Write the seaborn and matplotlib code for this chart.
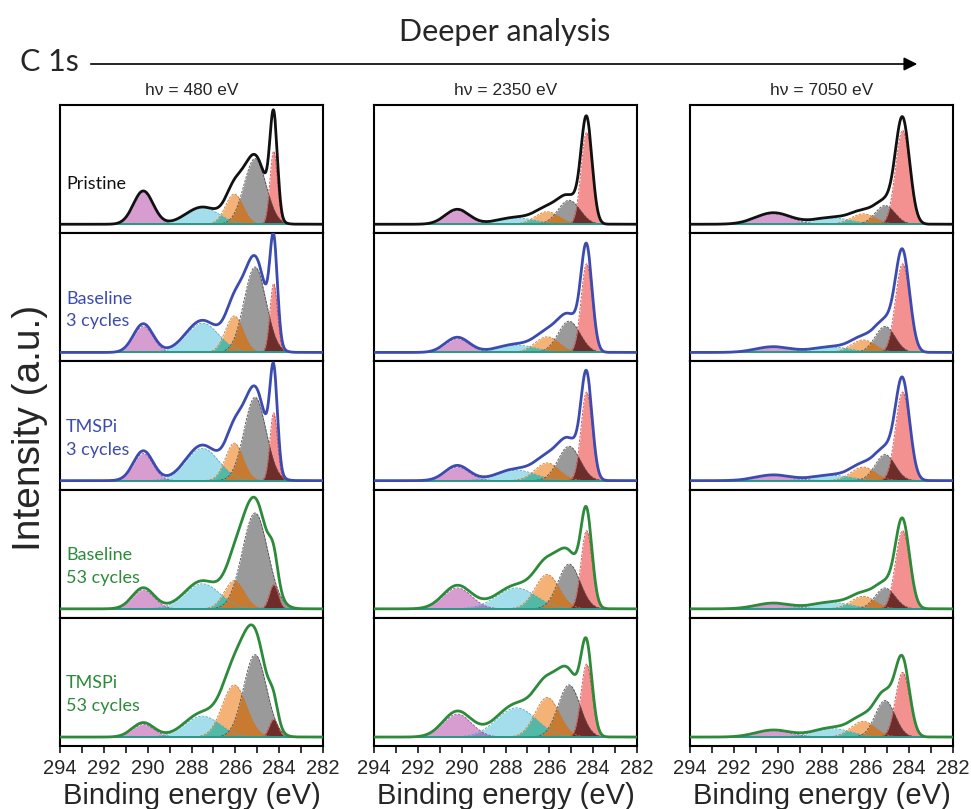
import numpy as np
import pandas as pd
import matplotlib
matplotlib.use("Agg")
import matplotlib.pyplot as plt
from matplotlib.patches import FancyArrowPatch
import seaborn as sns

# ---------------- data ----------------
PHOTON_LABELS = ["h\u03bd = 480 eV", "h\u03bd = 2350 eV", "h\u03bd = 7050 eV"]
SAMPLES = ["Pristine", "Baseline\n3 cycles", "TMSPi\n3 cycles", "Baseline\n53 cycles", "TMSPi\n53 cycles"]
COMPONENTS = ["pink", "cyan", "orange", "gray", "red"]
X_TICKS = [294, 292, 290, 288, 286, 284, 282]

# peak centres (eV) per photon energy: pink, cyan, orange, gray, red
CENTERS_480 = [290.2, 287.5, 286.05, 285.1, 284.25]
CENTERS_2350 = [290.2, 287.5, 286.1, 285.1, 284.3]
CENTERS_7050 = [290.2, 287.5, 286.1, 285.1, 284.3]

# peak widths (sigma, eV) per sample row: pink, cyan, orange, gray, red
SIGMAS_480 = [
    [0.45, 0.75, 0.40, 0.50, 0.17],
    [0.45, 0.75, 0.40, 0.50, 0.17],
    [0.45, 0.75, 0.40, 0.50, 0.17],
    [0.50, 0.80, 0.45, 0.58, 0.20],
    [0.50, 0.80, 0.55, 0.52, 0.20],
]
SIGMAS_2350 = [
    [0.55, 0.85, 0.55, 0.50, 0.25],
    [0.55, 0.85, 0.55, 0.50, 0.25],
    [0.55, 0.85, 0.55, 0.50, 0.25],
    [0.65, 0.90, 0.55, 0.50, 0.25],
    [0.65, 0.90, 0.55, 0.50, 0.25],
]
SIGMAS_7050 = [
    [0.80, 0.85, 0.55, 0.45, 0.32],
    [0.80, 0.85, 0.55, 0.45, 0.32],
    [0.80, 0.85, 0.55, 0.45, 0.32],
    [0.80, 0.85, 0.55, 0.45, 0.32],
    [0.80, 0.85, 0.55, 0.45, 0.32],
]

# peak heights (normalised) per sample row: pink, cyan, orange, gray, red
HEIGHTS_480 = [
    [0.31, 0.16, 0.29, 0.63, 0.70],
    [0.25, 0.28, 0.35, 0.82, 0.66],
    [0.26, 0.31, 0.36, 0.80, 0.65],
    [0.18, 0.24, 0.27, 0.92, 0.23],
    [0.12, 0.20, 0.50, 0.79, 0.17],
]
HEIGHTS_2350 = [
    [0.13, 0.06, 0.12, 0.23, 0.88],
    [0.13, 0.07, 0.15, 0.30, 0.85],
    [0.13, 0.10, 0.17, 0.33, 0.85],
    [0.20, 0.20, 0.33, 0.43, 0.75],
    [0.22, 0.28, 0.38, 0.50, 0.70],
]
HEIGHTS_7050 = [
    [0.10, 0.06, 0.10, 0.18, 0.90],
    [0.05, 0.05, 0.12, 0.25, 0.85],
    [0.05, 0.05, 0.13, 0.25, 0.85],
    [0.05, 0.06, 0.12, 0.20, 0.75],
    [0.06, 0.08, 0.15, 0.35, 0.62],
]

# envelope = scale * sum(components) + narrow residual at the red peak
ENV_SCALE_480 = [1.03, 1.10, 1.10, 1.12, 1.15]
ENV_SCALE_2350 = [1.10, 1.12, 1.12, 1.12, 1.12]
ENV_SCALE_7050 = [1.10, 1.10, 1.10, 1.10, 1.12]
SPIKE_480 = [0.22, 0.20, 0.20, 0.00, 0.00]
SPIKE_2350 = [0.0, 0.0, 0.0, 0.0, 0.0]
SPIKE_7050 = [0.0, 0.0, 0.0, 0.0, 0.0]

CENTERS = [CENTERS_480, CENTERS_2350, CENTERS_7050]
SIGMAS = [SIGMAS_480, SIGMAS_2350, SIGMAS_7050]
HEIGHTS = [HEIGHTS_480, HEIGHTS_2350, HEIGHTS_7050]
ENV_SCALE = [ENV_SCALE_480, ENV_SCALE_2350, ENV_SCALE_7050]
SPIKE = [SPIKE_480, SPIKE_2350, SPIKE_7050]

# ---------------- style ----------------
sns.set_theme(style="white")
plt.rcParams["font.family"] = ["Liberation Sans", "DejaVu Sans"]

FILL = {"pink": "#d393cc", "cyan": "#9adbeb", "orange": "#f3aa68",
        "gray": "#8f8f8f", "red": "#f28585"}
EDGE = {"pink": "#9a4f92", "cyan": "#4fa9c0", "orange": "#c9782f",
        "gray": "#505050", "red": "#d04848"}
OVERLAP_GR = "#6e2d2b"
OVERLAP_OG = "#c97a31"
OVERLAP_CO = "#52b9a6"
OVERLAP_PC = "#9b86c4"
LINE_COLORS = ["#111111", "#3c4bb0", "#3c4bb0", "#2c8a3a", "#2c8a3a"]
CALIBRI = ["Lato", "DejaVu Sans"]

W, H = 971, 809
fig = plt.figure(figsize=(W / 100, H / 100), dpi=100)
col_left = [60, 374, 690]
col_w = 263
top = 105
row_h = (746 - 105) / 5

E = np.linspace(282.0, 294.0, 1500)


def gauss(x, h, c, s):
    return h * np.exp(-0.5 * ((x - c) / s) ** 2)


for c in range(3):
    for r in range(5):
        ax = fig.add_axes([col_left[c] / W, 1 - (top + (r + 1) * row_h) / H,
                           col_w / W, row_h / H])
        sig = SIGMAS[c][r]
        comps = {}
        for k, name in enumerate(COMPONENTS):
            comps[name] = gauss(E, HEIGHTS[c][r][k], CENTERS[c][k], sig[k])
        for name in COMPONENTS:
            ax.fill_between(E, 0, comps[name], color=FILL[name], alpha=0.9,
                            lw=0, zorder=2)
        ax.fill_between(E, 0, np.minimum(comps["pink"], comps["cyan"]),
                        color=OVERLAP_PC, lw=0, zorder=3)
        ax.fill_between(E, 0, np.minimum(comps["cyan"], comps["orange"]),
                        color=OVERLAP_CO, lw=0, zorder=3)
        ax.fill_between(E, 0, np.minimum(comps["orange"], comps["gray"]),
                        color=OVERLAP_OG, lw=0, zorder=3)
        ax.fill_between(E, 0, np.minimum(comps["gray"], comps["red"]),
                        color=OVERLAP_GR, lw=0, zorder=3)
        for name in COMPONENTS:
            ax.plot(E, comps[name], color=EDGE[name], lw=0.6, ls=(0, (3, 1.5)),
                    zorder=4)
        ax.axhline(0, color="#2a9a8a", lw=1.4, zorder=4)

        total = sum(comps.values())
        env = ENV_SCALE[c][r] * total + gauss(E, SPIKE[c][r], CENTERS[c][4], 0.17)
        df = pd.DataFrame({"E": E, "I": env})
        sns.lineplot(data=df, x="E", y="I", ax=ax, color=LINE_COLORS[r],
                     lw=2.0, zorder=5, sort=False, estimator=None)

        ax.set_xlim(294, 282)
        ax.set_ylim(-0.086, 1.144)
        ax.set_yticks([])
        ax.set_xlabel("")
        ax.set_ylabel("")
        for sp in ax.spines.values():
            sp.set_visible(True)
            sp.set_color("black")
            sp.set_linewidth(1.5)
        if r == 4:
            ax.set_xticks(X_TICKS)
            ax.set_xticks(np.arange(282, 295, 1), minor=True)
            ax.tick_params(axis="x", which="major", direction="out", length=5,
                           width=1.3, labelsize=14.5, pad=4, bottom=True)
            ax.tick_params(axis="x", which="minor", direction="out", length=5,
                           width=1.3, bottom=True)
            ax.set_xlabel("Binding energy (eV)", fontsize=21, labelpad=3)
        else:
            ax.set_xticks([])
        if r == 0:
            ax.set_title(PHOTON_LABELS[c], fontsize=12.5, pad=7)
        if c == 0:
            ax.text(0.023, 0.38 if r == 0 else 0.40, SAMPLES[r],
                    transform=ax.transAxes, fontsize=13, color=LINE_COLORS[r],
                    family=CALIBRI, va="center", ha="left", linespacing=1.5)

fig.text(20 / W, 1 - 62 / H, "C 1s", fontsize=22, family=CALIBRI,
         va="center", ha="left")
fig.text(505 / W, 1 - 32 / H, "Deeper analysis", fontsize=22, family=CALIBRI,
         va="center", ha="center")
fig.add_artist(FancyArrowPatch((88 / W, 1 - 64 / H), (920 / W, 1 - 64 / H),
                               transform=fig.transFigure, arrowstyle="-|>",
                               mutation_scale=20, lw=1.2, color="black"))
fig.text(30 / W, 1 - 428 / H, "Intensity (a.u.)", fontsize=28, rotation=90,
         va="center", ha="center")

fig.savefig("out.png", dpi=100)
